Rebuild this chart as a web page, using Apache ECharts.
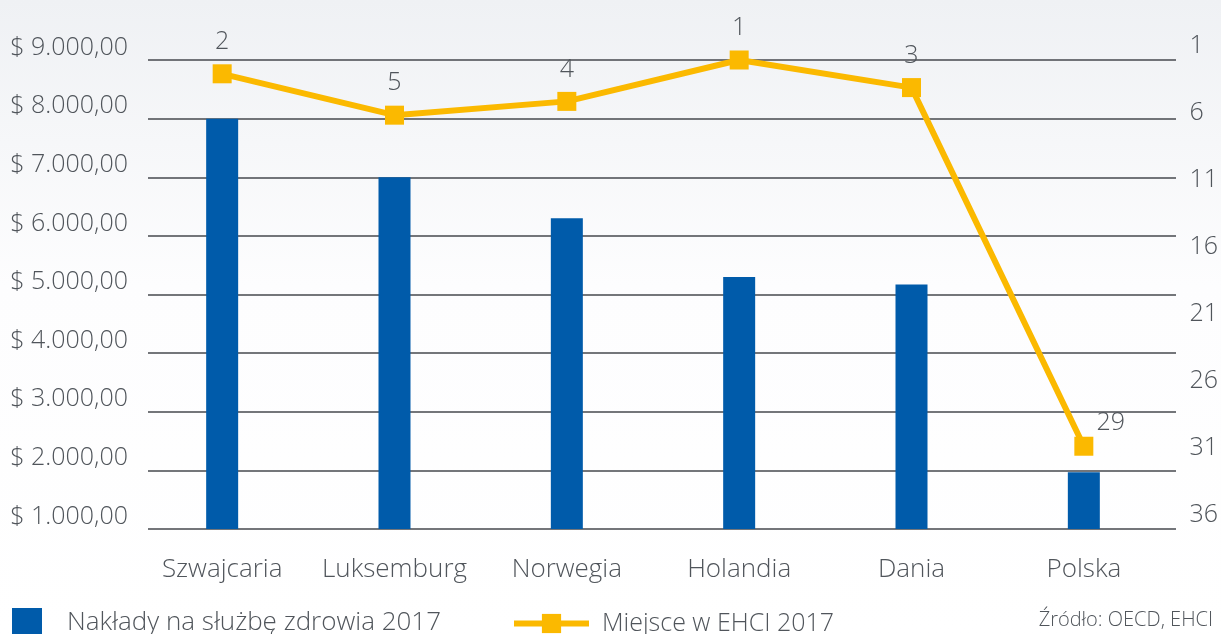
<!DOCTYPE html>
<html>
<head>
<meta charset="utf-8">
<script src="https://cdn.jsdelivr.net/npm/echarts@6/dist/echarts.min.js"></script>
<style>
  html, body { margin: 0; padding: 0; }
  #chart { width: 1221px; height: 634px; }
</style>
</head>
<body>
<div id="chart"></div>
<script>
// dane
var countries = ['Szwajcaria', 'Luksemburg', 'Norwegia', 'Holandia', 'Dania', 'Polska'];
var spending = [8000, 7000, 6300, 5300, 5170, 1970];   // Nakłady na służbę zdrowia 2017 (USD)
var ehciRank = [2, 5, 4, 1, 3, 29];                    // Miejsce w EHCI 2017
var rankTicks = [1, 6, 11, 16, 21, 26, 31, 36];

var FONT = '"Open Sans", "Lato", sans-serif';
var TXT = '#50555b';

function dollars(v) {
    var s = String(Math.round(v)).replace(/\B(?=(\d{3})+(?!\d))/g, '.');
    return '$ ' + s + ',00';
}

var myChart = echarts.init(document.getElementById('chart'));

var option = {
    backgroundColor: new echarts.graphic.LinearGradient(0, 0, 0, 1, [
        {offset: 0, color: '#eff1f4'},
        {offset: 0.45, color: '#fdfdfe'},
        {offset: 1, color: '#ffffff'}
    ]),
    animation: false,
    textStyle: {fontFamily: FONT},
    title: {
        text: 'Źródło: OECD, EHCI',
        right: 8,
        top: 610,
        padding: 0,
        textStyle: {fontSize: 20, fontWeight: 300, color: TXT, fontFamily: FONT}
    },
    legend: [
        {
            data: ['Nakłady na służbę zdrowia 2017'],
            left: 12,
            top: 608,
            padding: 0,
            icon: 'rect',
            itemWidth: 30,
            itemHeight: 30,
            textStyle: {fontSize: 26, fontWeight: 300, color: TXT, padding: [0, 0, 0, 20], fontFamily: FONT}
        },
        {
            data: ['Miejsce w EHCI 2017'],
            left: 511,
            top: 611,
            padding: 0,
            itemWidth: 75,
            itemHeight: 24,
            lineStyle: {width: 6},
            textStyle: {fontSize: 25, fontWeight: 300, color: TXT, padding: [0, 0, 0, 8], fontFamily: FONT}
        }
    ],
    grid: [
        // siatka + lewa oś
        {left: 148, right: 45, top: 60, bottom: 105},
        // słupki + linia
        {left: 136, right: 51, top: 60, bottom: 105},
        // prawa oś (miejsca)
        {left: 148, right: 45, top: 46, bottom: 119}
    ],
    xAxis: [
        {gridIndex: 0, type: 'category', data: countries, show: false},
        {
            gridIndex: 1,
            type: 'category',
            data: countries,
            axisLine: {show: false},
            axisTick: {show: false},
            axisLabel: {interval: 0, fontSize: 26, fontWeight: 300, color: TXT, margin: 28, fontFamily: FONT}
        },
        {gridIndex: 2, type: 'value', show: false}
    ],
    yAxis: [
        {
            gridIndex: 0,
            type: 'value',
            min: 1000,
            max: 9000,
            interval: 1000,
            axisLine: {show: false},
            axisTick: {show: false},
            splitLine: {lineStyle: {color: '#46494e', width: 1.5}},
            axisLabel: {
                fontSize: 25,
                fontWeight: 300,
                color: TXT,
                margin: 20,
                verticalAlign: 'bottom',
                fontFamily: FONT,
                formatter: dollars
            }
        },
        {gridIndex: 1, type: 'value', min: 1000, max: 9000, show: false},
        {gridIndex: 1, type: 'value', min: 1, max: 35, inverse: true, show: false},
        {
            gridIndex: 2,
            type: 'value',
            position: 'right',
            inverse: true,
            min: rankTicks[0],
            max: rankTicks[rankTicks.length - 1],
            interval: 5,
            axisLine: {show: false},
            axisTick: {show: false},
            splitLine: {show: false},
            axisLabel: {fontSize: 25, fontWeight: 300, color: TXT, margin: 14, fontFamily: FONT}
        }
    ],
    series: [
        {
            name: 'Nakłady na służbę zdrowia 2017',
            type: 'bar',
            xAxisIndex: 1,
            yAxisIndex: 1,
            barWidth: 32,
            itemStyle: {color: '#005baa'},
            data: spending
        },
        {
            name: 'Miejsce w EHCI 2017',
            type: 'line',
            xAxisIndex: 1,
            yAxisIndex: 2,
            symbol: 'rect',
            symbolSize: 19,
            lineStyle: {color: '#fbb900', width: 6},
            itemStyle: {color: '#fbb900'},
            label: {
                show: true,
                position: 'top',
                distance: 10,
                fontSize: 25,
                fontWeight: 300,
                color: TXT,
                fontFamily: FONT
            },
            data: ehciRank.map(function (v, i) {
                if (i === ehciRank.length - 1) {
                    return {value: v, label: {offset: [27, 9]}};
                }
                return v;
            })
        }
    ]
};

myChart.setOption(option);
</script>
</body>
</html>
